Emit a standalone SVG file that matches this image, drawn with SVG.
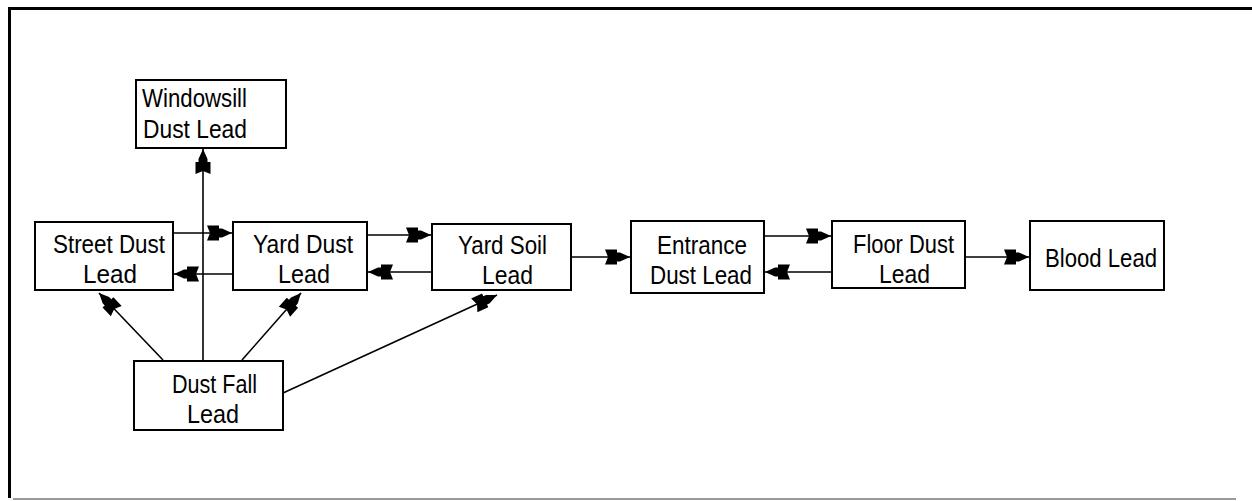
<svg xmlns="http://www.w3.org/2000/svg" width="1252" height="501" viewBox="0 0 1252 501">
<style>
.box{fill:#fff;stroke:#000;stroke-width:2}
.lbl{font-family:"Liberation Sans",Arial,sans-serif;font-size:26px;fill:#000}
.c{stroke:#000;stroke-width:1.6;fill:none;marker-end:url(#ah)}
</style>
<defs>
<marker id="ah" markerUnits="userSpaceOnUse" markerWidth="32" markerHeight="22" viewBox="-28 -11 30 22" refX="0" refY="0" orient="auto">
<path d="M0,0 L-10,-4.5 L-13,-4.5 L-13,-7.5 L-25,-7.5 L-22,0 L-25,7.5 L-13,7.5 L-13,4.5 L-10,4.5 Z" fill="#000"/>
</marker>
</defs>
<rect x="0" y="0" width="1252" height="501" fill="#fff"/>
<g id="frame">
<line x1="8" y1="8.5" x2="1252" y2="8.5" stroke="#000" stroke-width="3"/>
<line x1="9.5" y1="7" x2="9.5" y2="498" stroke="#000" stroke-width="3"/>
<line x1="13" y1="499" x2="1236" y2="499" stroke="#999" stroke-width="2"/>
</g>
<g id="connectors">
<line class="c" x1="203" y1="361" x2="203" y2="149"/>
<line class="c" x1="173" y1="233" x2="232" y2="233"/>
<line class="c" x1="233" y1="274" x2="174" y2="274"/>
<line class="c" x1="367" y1="235" x2="431" y2="235"/>
<line class="c" x1="432" y1="272" x2="368" y2="272"/>
<line class="c" x1="571" y1="257" x2="630" y2="257"/>
<line class="c" x1="764" y1="236" x2="831" y2="236"/>
<line class="c" x1="832" y1="272" x2="765" y2="272"/>
<line class="c" x1="965" y1="257" x2="1029" y2="257"/>
<line class="c" x1="163" y1="360" x2="99" y2="293"/>
<line class="c" x1="242" y1="360" x2="301" y2="293"/>
<line class="c" x1="283" y1="393" x2="497" y2="295"/>
</g>
<g id="windowsill">
<rect class="box" x="136" y="80" width="150" height="68"/>
<text class="lbl" x="142" y="107" textLength="105" lengthAdjust="spacingAndGlyphs">Windowsill</text>
<text class="lbl" x="143" y="138" textLength="104" lengthAdjust="spacingAndGlyphs">Dust Lead</text>
</g>
<g id="street">
<rect class="box" x="35" y="222" width="138" height="68"/>
<text class="lbl" x="53" y="253" textLength="112" lengthAdjust="spacingAndGlyphs">Street Dust</text>
<text class="lbl" x="83" y="283" textLength="54" lengthAdjust="spacingAndGlyphs">Lead</text>
</g>
<g id="yarddust">
<rect class="box" x="233" y="222" width="134" height="68"/>
<text class="lbl" x="253" y="253" textLength="100" lengthAdjust="spacingAndGlyphs">Yard Dust</text>
<text class="lbl" x="278" y="283" textLength="52" lengthAdjust="spacingAndGlyphs">Lead</text>
</g>
<g id="dustfall">
<rect class="box" x="134" y="361" width="149" height="69"/>
<text class="lbl" x="172" y="393" textLength="85" lengthAdjust="spacingAndGlyphs">Dust Fall</text>
<text class="lbl" x="187" y="423" textLength="52" lengthAdjust="spacingAndGlyphs">Lead</text>
</g>
<g id="yardsoil">
<rect class="box" x="432" y="224" width="139" height="66"/>
<text class="lbl" x="458" y="254" textLength="89" lengthAdjust="spacingAndGlyphs">Yard Soil</text>
<text class="lbl" x="482" y="284" textLength="51" lengthAdjust="spacingAndGlyphs">Lead</text>
</g>
<g id="entrance">
<rect class="box" x="631" y="221" width="133" height="72"/>
<text class="lbl" x="657" y="254" textLength="90" lengthAdjust="spacingAndGlyphs">Entrance</text>
<text class="lbl" x="650" y="284" textLength="102" lengthAdjust="spacingAndGlyphs">Dust Lead</text>
</g>
<g id="floordust">
<rect class="box" x="832" y="221" width="133" height="67"/>
<text class="lbl" x="853" y="253" textLength="101" lengthAdjust="spacingAndGlyphs">Floor Dust</text>
<text class="lbl" x="879" y="283" textLength="51" lengthAdjust="spacingAndGlyphs">Lead</text>
</g>
<g id="blood">
<rect class="box" x="1030" y="221" width="134" height="69"/>
<text class="lbl" x="1045" y="267" textLength="112" lengthAdjust="spacingAndGlyphs">Blood Lead</text>
</g>
</svg>
